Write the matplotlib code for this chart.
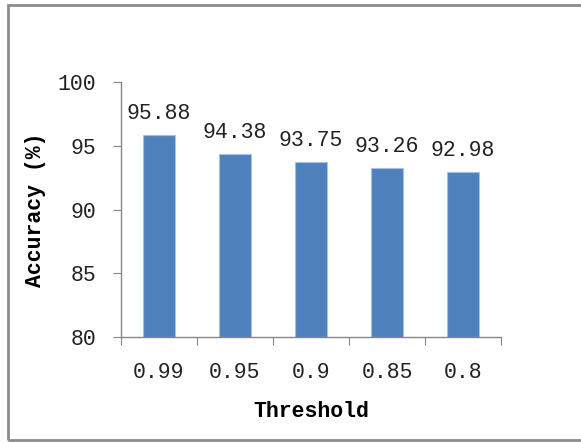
import matplotlib
matplotlib.use('Agg')
import matplotlib.pyplot as plt
from matplotlib.patches import Rectangle
import numpy as np

thresholds = ['0.99', '0.95', '0.9', '0.85', '0.8']
accuracy = [95.88, 94.38, 93.75, 93.26, 92.98]
yticks = [80, 85, 90, 95, 100]

W, H = 581, 443
fig = plt.figure(figsize=(W / 100, H / 100), dpi=100)
plt.rcParams['font.family'] = ['Liberation Mono', 'DejaVu Sans']

# outer chart border (right edge cut off in the original)
fig.patches.append(Rectangle((7.5 / W, 1 - 440 / H), 600 / W, (440 - 5) / H,
                             transform=fig.transFigure, fill=False,
                             edgecolor='#8c8c8c', linewidth=2))

ax = fig.add_axes([121 / W, 1 - 337 / H, 380 / W, 255 / H])
x = np.arange(len(thresholds))
bars = ax.bar(x, [a - 80 for a in accuracy], bottom=80, width=0.41,
              color='#4F81BD', edgecolor='#a9c2e4', linewidth=0.8)
for xi, a in zip(x, accuracy):
    ax.text(xi, a + 0.85, '%.2f' % a, ha='center', va='bottom',
            fontsize=15.5, color='#222222')

ax.set_xlim(-0.5, len(thresholds) - 0.5)
ax.set_ylim(80, 100)
ax.set_yticks(yticks)
ax.set_yticklabels([str(t) for t in yticks], fontsize=15.5, color='#222222')
ax.set_xticks(np.arange(len(thresholds) + 1) - 0.5)
ax.set_xticklabels([])
ax.set_xticks(x, minor=True)
ax.set_xticklabels(thresholds, minor=True, fontsize=15.5, color='#222222')
ax.tick_params(axis='x', which='minor', length=0, pad=18)
ax.tick_params(axis='x', which='major', length=6, color='#868686', direction='out')
ax.tick_params(axis='y', length=6, color='#868686', direction='out', pad=12)

for s in ['top', 'right']:
    ax.spines[s].set_visible(False)
for s in ['left', 'bottom']:
    ax.spines[s].set_color('#868686')
    ax.spines[s].set_linewidth(1)

ax.set_xlabel('Threshold', fontsize=15.5, fontweight='bold', labelpad=13)
ax.set_ylabel('Accuracy (%)', fontsize=15.5, fontweight='bold', labelpad=8)

fig.savefig('out.png', dpi=100)
